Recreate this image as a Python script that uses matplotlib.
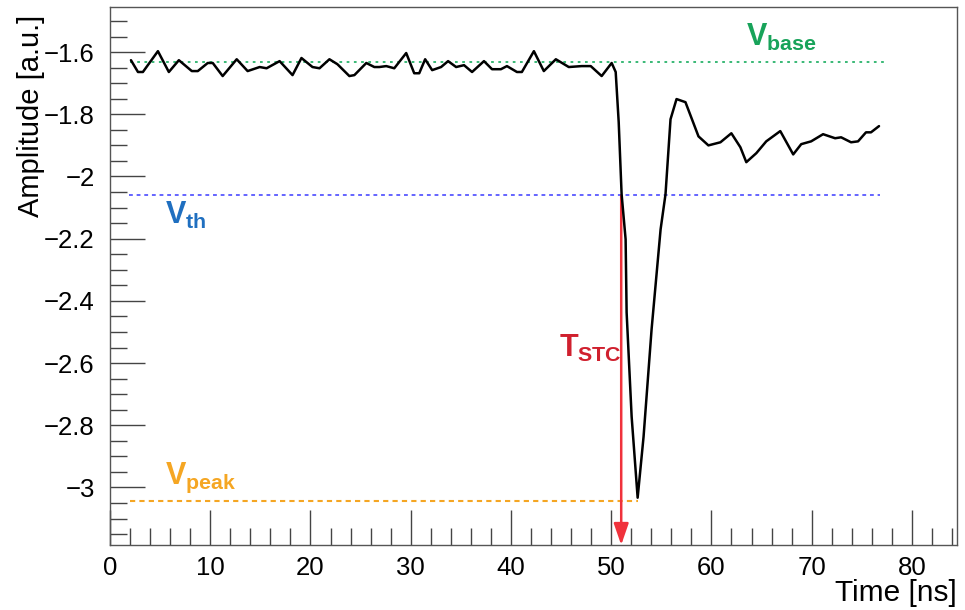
import numpy as np
import matplotlib.pyplot as plt
from matplotlib.ticker import MultipleLocator

plt.rcParams['font.family'] = ['Liberation Sans', 'DejaVu Sans']
plt.rcParams['mathtext.fontset'] = 'custom'
plt.rcParams['mathtext.rm'] = 'Liberation Sans:bold'
plt.rcParams['mathtext.it'] = 'Liberation Sans:bold'
plt.rcParams['mathtext.bf'] = 'Liberation Sans:bold'

# waveform
time_ns = [2.09, 2.79, 3.28, 4.78, 5.87, 6.87, 8.16, 8.76, 9.75, 10.25, 11.24, 12.64,
           13.73, 14.93, 15.62, 16.92, 18.21, 19.10, 20.20, 20.90, 21.89, 22.69, 23.88,
           24.38, 25.57, 26.37, 26.87, 27.56, 28.36, 29.55, 30.35, 30.85, 31.44, 32.14,
           33.03, 33.73, 34.53, 35.32, 36.12, 37.31, 38.11, 39.00, 39.60, 40.60, 41.09,
           42.29, 43.28, 44.48, 45.77, 47.06, 47.96, 49.05, 50.05, 50.45, 50.75, 51.04,
           51.44, 51.54, 52.04, 52.64, 53.23, 54.03, 54.93, 55.42, 55.92, 56.52, 57.41,
           58.71, 59.70, 60.90, 61.99, 62.89, 63.48, 64.48, 65.47, 66.87, 68.16, 68.96,
           69.95, 71.14, 72.34, 72.94, 73.93, 74.63, 75.42, 75.92, 76.72]
amplitude = [-1.626, -1.664, -1.664, -1.597, -1.664, -1.626, -1.661, -1.661, -1.635, -1.635,
             -1.677, -1.623, -1.661, -1.648, -1.652, -1.629, -1.674, -1.619, -1.648, -1.652,
             -1.623, -1.639, -1.677, -1.674, -1.635, -1.648, -1.648, -1.645, -1.652, -1.603,
             -1.668, -1.668, -1.623, -1.658, -1.648, -1.629, -1.648, -1.642, -1.664, -1.629,
             -1.655, -1.655, -1.645, -1.664, -1.664, -1.597, -1.661, -1.623, -1.648, -1.645,
             -1.645, -1.677, -1.635, -1.664, -1.825, -2.057, -2.202, -2.437, -2.772, -3.033,
             -2.837, -2.492, -2.170, -2.057, -1.816, -1.751, -1.761, -1.871, -1.900, -1.890,
             -1.861, -1.906, -1.954, -1.925, -1.887, -1.854, -1.929, -1.896, -1.887, -1.864,
             -1.877, -1.874, -1.890, -1.887, -1.858, -1.858, -1.838]

v_base = -1.633
v_th = -2.061
v_peak = -3.043
t_stc = 51.0
t_peak = 52.7

fig = plt.figure(figsize=(9.65, 6.1), dpi=100)
ax = fig.add_axes([0.114, 0.1066, 0.8777, 0.8819])

ax.plot(time_ns, amplitude, color='black', lw=1.8, zorder=5,
        solid_joinstyle='round', solid_capstyle='round')

ax.plot([2.0, 77.6], [v_base, v_base], color='#2ab36b', lw=1.3, ls=(0, (1.5, 2.5)))
ax.plot([1.9, 76.8], [v_th, v_th], color='#3a3aff', lw=1.1, ls=(0, (2.5, 2.5)))
ax.plot([2.0, t_peak], [v_peak, v_peak], color='#f5a623', lw=1.5, ls=(0, (2.5, 2.0)))

ylo, yhi = -3.185, -1.455
ax.annotate('', xy=(t_stc, ylo), xytext=(t_stc, v_th),
            arrowprops=dict(arrowstyle='-|>,head_length=1.3,head_width=0.45',
                            color='#f0323c', lw=1.8, shrinkA=0, shrinkB=0), zorder=4)

ax.text(63.5, -1.581, r'$V_{base}$', color='#18a35a', fontsize=22, va='baseline')
ax.text(5.45, -2.154, r'$V_{th}$', color='#1f6fc0', fontsize=22, va='baseline')
ax.text(5.45, -2.988, r'$V_{peak}$', color='#f5a623', fontsize=22, va='baseline')
ax.text(44.8, -2.579, r'$T_{STC}$', color='#d0202e', fontsize=22, va='baseline')

ax.set_xlim(0, 84.5)
ax.set_ylim(ylo, yhi)
ax.xaxis.set_major_locator(MultipleLocator(10))
ax.xaxis.set_minor_locator(MultipleLocator(2))
ax.yaxis.set_major_locator(MultipleLocator(0.2))
ax.yaxis.set_minor_locator(MultipleLocator(0.05))
ax.yaxis.set_major_formatter(plt.FuncFormatter(lambda v, p: f'{v:g}'.replace('-', '\u2212')))

ax.tick_params(which='both', direction='in', top=False, right=False,
               color='#444444', labelsize=18.5)
ax.tick_params(which='major', length=25, width=1.0)
ax.tick_params(which='minor', length=12, width=1.0)
ax.tick_params(axis='x', pad=8)
ax.tick_params(axis='y', pad=11)
for s in ax.spines.values():
    s.set_color('#555555')
    s.set_linewidth(1.0)

ax.set_xlabel('Time [ns]', fontsize=21.5, loc='right', labelpad=-1)
ax.set_ylabel('Amplitude [a.u.]', fontsize=21, loc='top')
ax.yaxis.set_label_coords(-0.077, 0.985)

fig.savefig('out.png', dpi=100)
